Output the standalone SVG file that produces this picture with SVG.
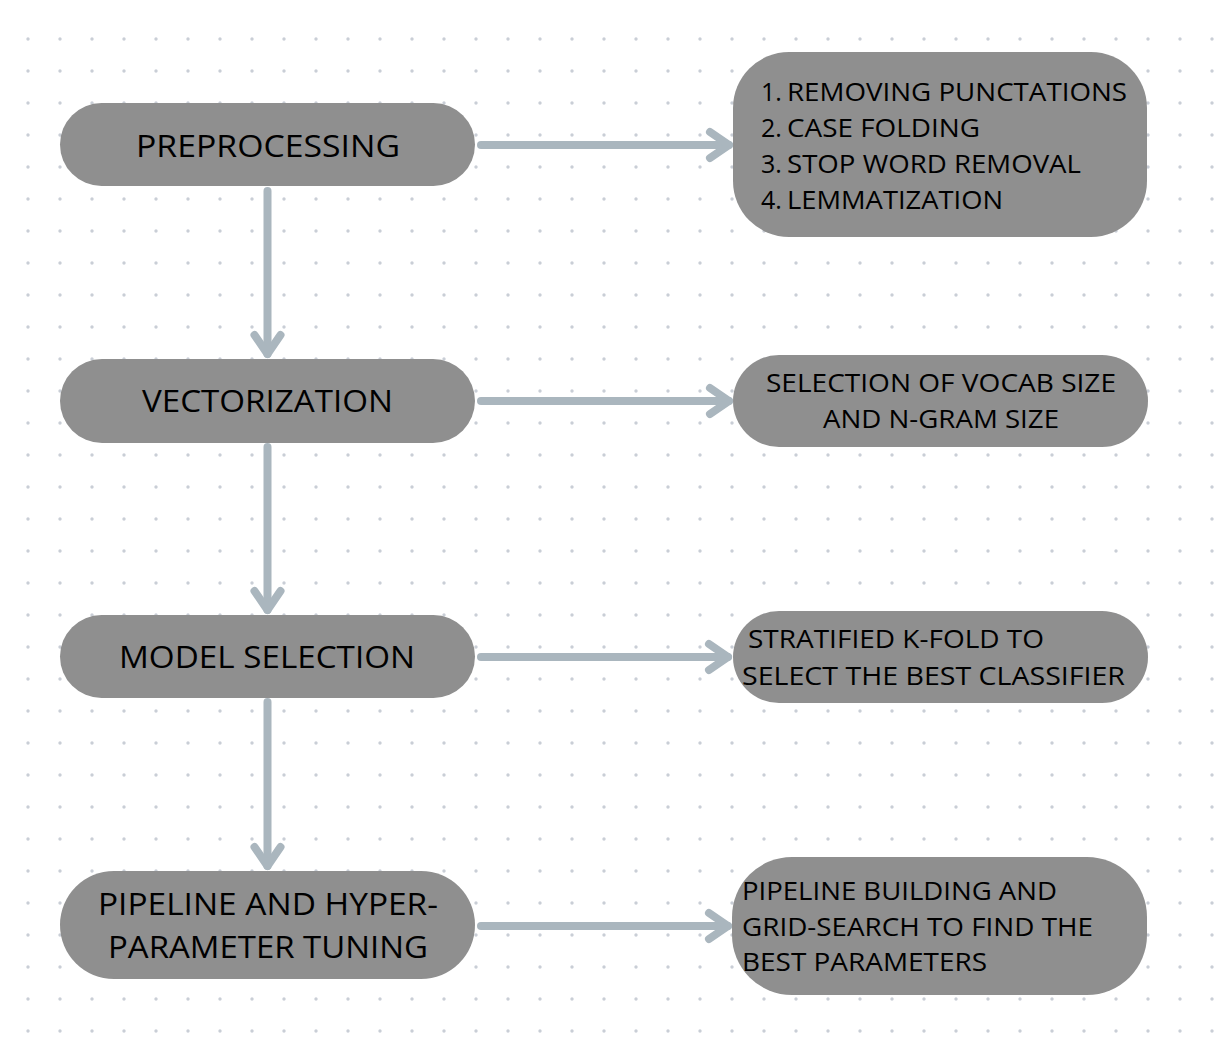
<svg xmlns="http://www.w3.org/2000/svg" width="1223" height="1052" viewBox="0 0 1223 1052">
<style>
.node{fill:#8f8f8f}
.lbl{font-family:"Open Sans","Liberation Sans",sans-serif;fill:#000}
.big{font-size:31px}
.sm{font-size:25px}
.conn{fill:none;stroke:#aab6be;stroke-width:8;stroke-linecap:round}
</style>
<defs>
<pattern id="dots" x="12" y="23" width="32" height="32" patternUnits="userSpaceOnUse">
<circle cx="16" cy="16" r="1.7" fill="#c9ced6"/>
</pattern>
<marker id="chev" markerUnits="userSpaceOnUse" viewBox="-28 -20 34 40" markerWidth="34" markerHeight="40" refX="0" refY="0" orient="auto">
<path d="M-19,-13 L0,0 L-19,13" fill="none" stroke="#aab6be" stroke-width="8" stroke-linecap="round" stroke-linejoin="round"/>
</marker>
</defs>
<rect width="1223" height="1052" fill="#ffffff"/>
<rect x="12" y="23" width="1211" height="1029" fill="url(#dots)"/>

<g id="connectors">
<path class="conn" d="M481,145 H729" marker-end="url(#chev)"/>
<path class="conn" d="M481,401 H729" marker-end="url(#chev)"/>
<path class="conn" d="M481,657 H728" marker-end="url(#chev)"/>
<path class="conn" d="M481,926 H728" marker-end="url(#chev)"/>
<path class="conn" d="M267.5,191 V354" marker-end="url(#chev)"/>
<path class="conn" d="M267.5,447 V610" marker-end="url(#chev)"/>
<path class="conn" d="M267.5,702 V866" marker-end="url(#chev)"/>
</g>

<g id="preprocessing">
<rect class="node" x="60" y="103" width="415" height="83" rx="41.5"/>
<text class="lbl big" x="136" y="157" textLength="264" lengthAdjust="spacingAndGlyphs">PREPROCESSING</text>
</g>
<g id="vectorization">
<rect class="node" x="60" y="359" width="415" height="84" rx="42"/>
<text class="lbl big" x="142" y="412" textLength="251" lengthAdjust="spacingAndGlyphs">VECTORIZATION</text>
</g>
<g id="model-selection">
<rect class="node" x="60" y="615" width="415" height="83" rx="41.5"/>
<text class="lbl big" x="119" y="668" textLength="296" lengthAdjust="spacingAndGlyphs">MODEL SELECTION</text>
</g>
<g id="pipeline-tuning">
<rect class="node" x="60" y="871" width="415" height="108" rx="54"/>
<text class="lbl big" x="98" y="915" textLength="340" lengthAdjust="spacingAndGlyphs">PIPELINE AND HYPER-</text>
<text class="lbl big" x="108" y="958" textLength="320" lengthAdjust="spacingAndGlyphs">PARAMETER TUNING</text>
</g>

<g id="preprocessing-steps">
<rect class="node" x="733" y="52" width="414" height="185" rx="56"/>
<text class="lbl sm" x="761" y="101">1.</text>
<text class="lbl sm" x="787" y="101" textLength="340" lengthAdjust="spacingAndGlyphs">REMOVING PUNCTATIONS</text>
<text class="lbl sm" x="761" y="137">2.</text>
<text class="lbl sm" x="787" y="137" textLength="193" lengthAdjust="spacingAndGlyphs">CASE FOLDING</text>
<text class="lbl sm" x="761" y="173">3.</text>
<text class="lbl sm" x="787" y="173" textLength="294" lengthAdjust="spacingAndGlyphs">STOP WORD REMOVAL</text>
<text class="lbl sm" x="761" y="209">4.</text>
<text class="lbl sm" x="787" y="209" textLength="216" lengthAdjust="spacingAndGlyphs">LEMMATIZATION</text>
</g>
<g id="vocab-selection">
<rect class="node" x="733" y="355" width="415" height="92" rx="46"/>
<text class="lbl sm" x="766" y="392" textLength="350" lengthAdjust="spacingAndGlyphs">SELECTION OF VOCAB SIZE</text>
<text class="lbl sm" x="823" y="428" textLength="236" lengthAdjust="spacingAndGlyphs">AND N-GRAM SIZE</text>
</g>
<g id="kfold">
<rect class="node" x="733" y="611" width="415" height="92" rx="46"/>
<text class="lbl sm" x="748" y="648" textLength="296" lengthAdjust="spacingAndGlyphs">STRATIFIED K-FOLD TO</text>
<text class="lbl sm" x="742" y="685" textLength="383" lengthAdjust="spacingAndGlyphs">SELECT THE BEST CLASSIFIER</text>
</g>
<g id="grid-search">
<rect class="node" x="732" y="857" width="415" height="138" rx="60"/>
<text class="lbl sm" x="742" y="900" textLength="315" lengthAdjust="spacingAndGlyphs">PIPELINE BUILDING AND</text>
<text class="lbl sm" x="742" y="936" textLength="351" lengthAdjust="spacingAndGlyphs">GRID-SEARCH TO FIND THE</text>
<text class="lbl sm" x="742" y="971" textLength="245" lengthAdjust="spacingAndGlyphs">BEST PARAMETERS</text>
</g>
</svg>
